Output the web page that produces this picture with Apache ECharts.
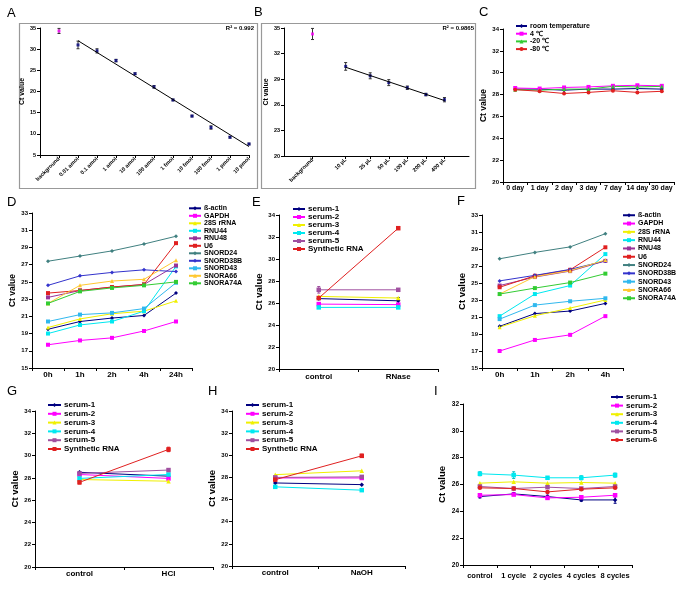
<!DOCTYPE html>
<html>
<head>
<meta charset="utf-8">
<script src="https://cdn.jsdelivr.net/npm/echarts@6/dist/echarts.min.js"></script>
<style>
html, body { margin: 0; padding: 0; background: #fff; }
#chart { width: 683px; height: 589px; }
</style>
</head>
<body>
<div id="chart"></div>
<script>
// ---- A: dilution series of synthetic RNA
const catsA = ['', 'background', '0.01 amol', '0.1 amol', '1 amol', '10 amol', '100 amol', '1 fmol', '10 fmol', '100 fmol', '1 pmol', '10 pmol'];
const bgA = 34.3, bgErrA = 0.6;
const ctA = [31.0, 29.6, 27.3, 24.2, 21.1, 18.0, 14.2, 11.5, 9.2, 7.6];
const errA = [0.9, 0.5, 0.3, 0.2, 0.3, 0.2, 0.2, 0.4, 0.2, 0.2];
const fitA = [32.0, 7.0];
const r2A = 'R² = 0.992';

// ---- B: serum volume (log x)
const volB = [10, 25, 50, 100, 200, 400];
const volLabelsB = ['10 µL', '25 µL', '50 µL', '100 µL', '200 µL', '400 µL'];
const bgXB = 2.9, bgB = 34.3, bgErrB = 0.65;
const ctB = [30.5, 29.4, 28.6, 28.0, 27.2, 26.6];
const errB = [0.45, 0.35, 0.35, 0.2, 0.15, 0.25];
const fitB = [30.4, 26.5];
const r2B = 'R² = 0.9865';

// ---- C: storage temperature
const daysC = ['0 day', '1 day', '2 day', '3 day', '7 day', '14 day', '30 day'];
const tempNames = ['room temperature', '4 ℃', '-20 ℃', '-80 ℃'];
const roomC = [28.5, 28.5, 28.4, 28.5, 28.5, 28.55, 28.5];
const c4C = [28.6, 28.55, 28.65, 28.7, 28.8, 28.85, 28.8];
const m20C = [28.45, 28.4, 28.5, 28.5, 28.75, 28.7, 28.75];
const m80C = [28.45, 28.3, 28.1, 28.2, 28.35, 28.2, 28.3];

// ---- D / F: reference genes over time
const genes = ['ß-actin', 'GAPDH', '28S rRNA', 'RNU44', 'RNU48', 'U6', 'SNORD24', 'SNORD38B', 'SNORD43', 'SNORA66', 'SNORA74A'];
const hoursD = ['0h', '1h', '2h', '4h', '24h'];
const actinD = [19.5, 20.4, 20.8, 21.1, 23.7];
const gapdhD = [17.7, 18.2, 18.5, 19.3, 20.4];
const rrnaD = [19.7, 20.7, 21.3, 21.6, 22.8];
const rnu44D = [19.0, 20.0, 20.4, 21.6, 26.8];
const rnu48D = [23.2, 24.0, 24.4, 24.7, 26.9];
const u6D = [23.7, 24.0, 24.4, 24.7, 29.5];
const snord24D = [27.4, 28.0, 28.6, 29.4, 30.3];
const snord38bD = [24.6, 25.7, 26.1, 26.4, 26.2];
const snord43D = [20.4, 21.2, 21.4, 21.9, 24.9];
const snora66D = [22.5, 24.6, 25.1, 25.3, 27.5];
const snora74aD = [22.5, 23.9, 24.3, 24.6, 25.0];

const hoursF = ['0h', '1h', '2h', '4h'];
const actinF = [19.9, 21.4, 21.7, 22.6];
const gapdhF = [17.0, 18.3, 18.9, 21.1];
const rrnaF = [19.8, 21.15, 22.05, 23.0];
const rnu44F = [21.1, 23.7, 24.7, 28.4];
const rnu48F = [24.7, 25.7, 26.4, 27.6];
const u6F = [24.5, 25.85, 26.55, 29.2];
const snord24F = [27.85, 28.6, 29.25, 30.8];
const snord38bF = [25.25, 25.9, 26.6, 27.6];
const snord43F = [20.75, 22.4, 22.85, 23.2];
const snora66F = [23.7, 25.75, 26.45, 27.7];
const snora74aF = [23.7, 24.4, 25.05, 26.1];

// ---- E / G / H / I: serum samples
const serumNames = ['serum-1', 'serum-2', 'serum-3', 'serum-4', 'serum-5', 'Synthetic RNA'];
const condE = ['control', 'RNase'];
const serum1E = [26.4, 26.2], serum2E = [25.9, 25.85], serum3E = [26.6, 26.45];
const serum4E = [25.6, 25.6], serum5E = [27.2, 27.2], synE = [26.45, 32.8];
const err5E = [0.3, 0.1], err1E = [0.1, 0.3];

const condG = ['control', 'HCl'];
const serum1G = [28.5, 28.15], serum2G = [28.3, 27.95], serum3G = [27.85, 27.7];
const serum4G = [27.95, 28.3], serum5G = [28.4, 28.7], synG = [27.6, 30.55];
const errSynG = [0.15, 0.2];

const condH = ['control', 'NaOH'];
const serum1H = [27.5, 27.35], serum2H = [27.95, 27.95], serum3H = [28.25, 28.6];
const serum4H = [27.15, 26.85], serum5H = [28.0, 28.05], synH = [27.8, 29.95];
const errSynH = [0.2, 0.15];

const cyclesI = ['control', '1 cycle', '2 cycles', '4 cycles', '8 cycles'];
const serumNamesI = ['serum-1', 'serum-2', 'serum-3', 'serum-4', 'serum-5', 'serum-6'];
const serum1I = [25.1, 25.3, 25.1, 24.85, 24.85];
const serum2I = [25.2, 25.25, 25.0, 25.05, 25.2];
const serum3I = [26.1, 26.2, 26.1, 26.15, 26.1];
const serum4I = [26.8, 26.7, 26.5, 26.5, 26.7];
const serum5I = [25.85, 25.7, 25.8, 25.7, 25.85];
const serum6I = [25.75, 25.7, 25.45, 25.65, 25.75];
const err1I = [0.1, 0.1, 0.1, 0.1, 0.25];
const err4I = [0.15, 0.25, 0.1, 0.15, 0.15];

// ---- styles per series name
const FONT = '"Liberation Sans", Arial, sans-serif';
const STY = {
  'room temperature': ['#000080', 'diamond'], '4 ℃': ['#ff00ff', 'rect'],
  '-20 ℃': ['#33cc33', 'triangle'], '-80 ℃': ['#e02020', 'circle'],
  'ß-actin': ['#000080', 'diamond'], 'GAPDH': ['#ff00ff', 'rect'], '28S rRNA': ['#f0f000', 'triangle'],
  'RNU44': ['#00e8f0', 'rect'], 'RNU48': ['#993399', 'rect'], 'U6': ['#e02020', 'rect'],
  'SNORD24': ['#408080', 'diamond'], 'SNORD38B': ['#3333cc', 'diamond'], 'SNORD43': ['#30b8ee', 'rect'],
  'SNORA66': ['#ffc830', 'triangle'], 'SNORA74A': ['#33cc33', 'rect'],
  'serum-1': ['#000080', 'diamond'], 'serum-2': ['#ff00ff', 'rect'], 'serum-3': ['#f0f000', 'triangle'],
  'serum-4': ['#00e8f0', 'rect'], 'serum-5': ['#a050a0', 'rect'], 'Synthetic RNA': ['#e02020', 'rect'],
  'serum-6': ['#e02020', 'circle']
};

const grids = [
  { left: 40, top: 28, width: 209, height: 127 },   // A
  { left: 284, top: 28, width: 185, height: 128 },  // B
  { left: 503, top: 29, width: 171, height: 153 },  // C
  { left: 32, top: 213, width: 160, height: 155 },  // D
  { left: 279, top: 215, width: 159, height: 154 }, // E
  { left: 482, top: 215, width: 141, height: 153 }, // F
  { left: 35, top: 411, width: 178, height: 156 },  // G
  { left: 232, top: 411, width: 173, height: 155 }, // H
  { left: 463, top: 404, width: 169, height: 161 }  // I
].map(g => Object.assign({ outerBoundsMode: 'none', containLabel: false }, g));

const axisLine = { show: true, lineStyle: { color: '#000', width: 1 } };
const axisTick = { show: true, length: 3, lineStyle: { color: '#000', width: 1 } };

function yAx(gi, min, max, interval, fs, nameGap, nameFs) {
  return {
    gridIndex: gi, type: 'value', min: min, max: max, interval: interval,
    name: 'Ct value', nameLocation: 'middle', nameGap: nameGap,
    nameTextStyle: { fontFamily: FONT, fontWeight: 'bold', fontSize: nameFs, color: '#000' },
    axisLine: axisLine, axisTick: axisTick, splitLine: { show: false },
    axisLabel: { fontFamily: FONT, fontWeight: 'bold', fontSize: fs, color: '#000', margin: 4 }
  };
}
function xCat(gi, data, fs, margin, extra) {
  return Object.assign({
    gridIndex: gi, type: 'category', data: data,
    axisLine: axisLine, axisTick: axisTick, splitLine: { show: false },
    axisLabel: { fontFamily: FONT, fontWeight: 'bold', fontSize: fs, color: '#000', margin: margin, interval: 0 }
  }, extra || {});
}

const bXs = [bgXB].concat(volB);
const bLabels = ['background'].concat(volLabelsB);
function nearestB(v) {
  let best = 0, d = Infinity;
  bXs.forEach((x, i) => { const dd = Math.abs(Math.log(v / x)); if (dd < d) { d = dd; best = i; } });
  return bLabels[best];
}

const xAxes = [
  xCat(0, catsA, 5.5, 3, { boundaryGap: false,
    axisLabel: { fontFamily: FONT, fontWeight: 'bold', fontSize: 5.5, color: '#000', rotate: 45, margin: 3, interval: 0 } }),
  { gridIndex: 1, type: 'log', logBase: 10, min: 1, max: 1000,
    axisLine: axisLine, splitLine: { show: false },
    axisTick: { show: true, length: 3, customValues: bXs, lineStyle: { color: '#000' } },
    axisLabel: { customValues: bXs, formatter: nearestB, rotate: 45, fontFamily: FONT, fontWeight: 'bold', fontSize: 5.5, color: '#000', margin: 3 } },
  xCat(2, daysC, 7, 3),
  xCat(3, hoursD, 8, 3),
  xCat(4, condE, 8, 4),
  xCat(5, hoursF, 8, 3),
  xCat(6, condG, 8, 3),
  xCat(7, condH, 8, 3),
  xCat(8, cyclesI, 7.5, 7)
];
const yAxes = [
  yAx(0, 5, 35, 5, 5.5, 11, 7),
  yAx(1, 20, 35, 3, 5.5, 11, 7),
  yAx(2, 20, 34, 2, 6, 11, 8.5),
  yAx(3, 15, 33, 2, 6, 12, 8.5),
  yAx(4, 20, 34, 2, 6, 12, 9.5),
  yAx(5, 15, 33, 2, 6, 14, 9.5),
  yAx(6, 20, 34, 2, 6, 12, 9.5),
  yAx(7, 20, 34, 2, 6, 12, 9.5),
  yAx(8, 20, 32, 2, 6.5, 15, 9.5)
];

function line(name, gi, cats, vals, size) {
  const s = STY[name];
  return {
    name: name, type: 'line', xAxisIndex: gi, yAxisIndex: gi,
    data: cats.map((c, i) => [c, vals[i]]),
    symbol: s[1], symbolSize: size || 4, showSymbol: true,
    itemStyle: { color: s[0] }, lineStyle: { color: s[0], width: 1 },
    emphasis: { disabled: true }, animation: false
  };
}
function errBars(gi, xs, ys, es, color) {
  return {
    type: 'custom', xAxisIndex: gi, yAxisIndex: gi, silent: true, animation: false, z: 1,
    data: xs.map((x, i) => [x, ys[i] - es[i], ys[i] + es[i]]),
    renderItem: function (params, api) {
      const lo = api.coord([api.value(0), api.value(1)]);
      const hi = api.coord([api.value(0), api.value(2)]);
      const w = 1.5, st = { stroke: color, lineWidth: 1 };
      return { type: 'group', children: [
        { type: 'line', shape: { x1: lo[0], y1: lo[1], x2: hi[0], y2: hi[1] }, style: st },
        { type: 'line', shape: { x1: lo[0] - w, y1: lo[1], x2: lo[0] + w, y2: lo[1] }, style: st },
        { type: 'line', shape: { x1: hi[0] - w, y1: hi[1], x2: hi[0] + w, y2: hi[1] }, style: st }
      ] };
    }
  };
}

const series = [];
// A
const ptsA = catsA.slice(2);
series.push(errBars(0, ptsA, ctA, errA, '#333'));
series.push(errBars(0, ['background'], [bgA], [bgErrA], '#333'));
series.push({ type: 'line', xAxisIndex: 0, yAxisIndex: 0, data: [[ptsA[0], fitA[0]], [ptsA[ptsA.length - 1], fitA[1]]],
  symbol: 'none', lineStyle: { color: '#000', width: 1 }, animation: false, silent: true });
series.push({ type: 'scatter', xAxisIndex: 0, yAxisIndex: 0, data: ptsA.map((c, i) => [c, ctA[i]]),
  symbol: 'rect', symbolSize: 3, itemStyle: { color: '#000080' }, animation: false, silent: true });
series.push({ type: 'scatter', xAxisIndex: 0, yAxisIndex: 0, data: [['background', bgA]],
  symbol: 'rect', symbolSize: 3, itemStyle: { color: '#ff00ff' }, animation: false, silent: true });
// B
series.push(errBars(1, volB, ctB, errB, '#333'));
series.push(errBars(1, [bgXB], [bgB], [bgErrB], '#333'));
series.push({ type: 'line', xAxisIndex: 1, yAxisIndex: 1, data: [[volB[0], fitB[0]], [volB[volB.length - 1], fitB[1]]],
  symbol: 'none', lineStyle: { color: '#000', width: 1 }, animation: false, silent: true });
series.push({ type: 'scatter', xAxisIndex: 1, yAxisIndex: 1, data: volB.map((v, i) => [v, ctB[i]]),
  symbol: 'rect', symbolSize: 3, itemStyle: { color: '#000080' }, animation: false, silent: true });
series.push({ type: 'scatter', xAxisIndex: 1, yAxisIndex: 1, data: [[bgXB, bgB]],
  symbol: 'rect', symbolSize: 3, itemStyle: { color: '#ff00ff' }, animation: false, silent: true });
// C
[roomC, c4C, m20C, m80C].forEach((v, i) => series.push(line(tempNames[i], 2, daysC, v)));
// D
[actinD, gapdhD, rrnaD, rnu44D, rnu48D, u6D, snord24D, snord38bD, snord43D, snora66D, snora74aD]
  .forEach((v, i) => series.push(line(genes[i], 3, hoursD, v)));
// F
[actinF, gapdhF, rrnaF, rnu44F, rnu48F, u6F, snord24F, snord38bF, snord43F, snora66F, snora74aF]
  .forEach((v, i) => series.push(line(genes[i], 5, hoursF, v)));
// E, G, H
series.push(errBars(4, condE, serum5E, err5E, '#a050a0'));
series.push(errBars(4, condE, serum1E, err1E, '#000080'));
[serum1E, serum2E, serum3E, serum4E, serum5E, synE].forEach((v, i) => series.push(line(serumNames[i], 4, condE, v, 4.5)));
series.push(errBars(6, condG, synG, errSynG, '#e02020'));
[serum1G, serum2G, serum3G, serum4G, serum5G, synG].forEach((v, i) => series.push(line(serumNames[i], 6, condG, v, 4.5)));
series.push(errBars(7, condH, synH, errSynH, '#e02020'));
[serum1H, serum2H, serum3H, serum4H, serum5H, synH].forEach((v, i) => series.push(line(serumNames[i], 7, condH, v, 4.5)));
// I
series.push(errBars(8, cyclesI, serum1I, err1I, '#000080'));
series.push(errBars(8, cyclesI, serum4I, err4I, '#00c0c8'));
[serum1I, serum2I, serum3I, serum4I, serum5I, serum6I].forEach((v, i) => series.push(line(serumNamesI[i], 8, cyclesI, v, 4.5)));

function legend(names, left, top, fs, lh, gap, iw) {
  return {
    data: names, orient: 'vertical', left: left, top: top, itemGap: gap, itemWidth: iw, itemHeight: 5,
    padding: 0, selectedMode: false, inactiveColor: '#000',
    textStyle: { fontFamily: FONT, fontWeight: 'bold', fontSize: fs, lineHeight: lh, color: '#000', padding: [0, 0, 0, -2] }
  };
}
const legends = [
  legend(tempNames, 515, 22.5, 7, 7, 0.7, 11),
  legend(genes, 188, 204.8, 7, 7, 0.5, 12),
  legend(serumNames, 292, 205, 8, 7.6, 0, 12),
  legend(genes, 622, 211.5, 7, 7.5, 0.8, 12),
  legend(serumNames, 47, 401, 8, 8, 0.8, 13),
  legend(serumNames, 245, 401, 8, 8, 0.8, 13),
  legend(serumNamesI, 610, 393, 8, 8, 0.6, 12)
];

function letter(t, x, y) {
  return { type: 'text', left: x, top: y, style: { text: t, font: '13px ' + FONT, fill: '#000' } };
}
const graphics = [
  { type: 'rect', shape: { x: 19.5, y: 23.5, width: 238, height: 165 }, style: { fill: 'none', stroke: '#999', lineWidth: 1.2 }, silent: true },
  { type: 'rect', shape: { x: 261.5, y: 23.5, width: 214, height: 165 }, style: { fill: 'none', stroke: '#999', lineWidth: 1.2 }, silent: true },
  letter('A', 7, 7), letter('B', 254, 6), letter('C', 479, 6),
  letter('D', 7, 196), letter('E', 252, 196), letter('F', 457, 195),
  letter('G', 7, 385), letter('H', 208, 385), letter('I', 434, 385),
  { type: 'text', right: 683 - 254, top: 25, style: { text: r2A, font: 'bold 6px ' + FONT, fill: '#000' } },
  { type: 'text', right: 683 - 474, top: 25, style: { text: r2B, font: 'bold 6px ' + FONT, fill: '#000' } }
];

const chart = echarts.init(document.getElementById('chart'), null, { renderer: 'canvas' });
chart.setOption({
  animation: false,
  backgroundColor: '#fff',
  textStyle: { fontFamily: FONT },
  grid: grids,
  xAxis: xAxes,
  yAxis: yAxes,
  legend: legends,
  graphic: graphics,
  series: series
});
</script>
</body>
</html>
